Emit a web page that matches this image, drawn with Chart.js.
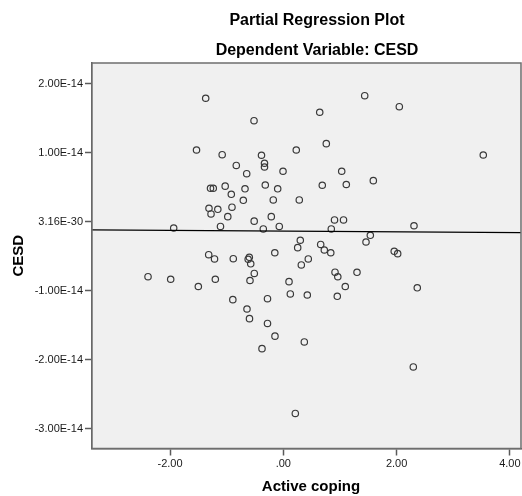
<!DOCTYPE html>
<html>
<head>
<meta charset="utf-8">
<script src="https://cdn.jsdelivr.net/npm/chart.js@4/dist/chart.umd.min.js"></script>
<style>
  html, body { margin: 0; padding: 0; background: #ffffff; }
  #wrap { width: 522px; height: 496px; position: relative; }
</style>
</head>
<body>
<div id="wrap"><canvas id="c" width="522" height="496"></canvas></div>
<script>
// Partial regression of CESD on Active coping (residualised values)
const activeCoping = [
  -1.370, -0.517, -1.532, -1.079, -0.830, -0.646, -1.285, -1.236, -1.026, -0.676,
  -0.918, -0.706,  1.437,  2.048,  0.643,  0.759,  0.229, -0.385, -0.332, -0.332,
  -0.005,  1.031,  1.589, -0.318, -0.099,  0.688,  1.112, -0.177,  0.282,  3.530,
  -1.312, -1.156, -1.276, -0.906, -0.980, -1.109, -0.514, -1.935, -0.212, -0.071,
  -0.353,  0.904,  1.063,  0.847,  2.307,  1.536,  1.460,  0.300,  0.254,  0.660,
   0.724,  0.838, -0.150,  1.958,  2.019,  0.441,  0.318, -1.317, -1.214, -0.883,
  -0.600, -0.620, -0.575, -0.512, -2.388, -1.988, -1.500, -1.200, -0.588,  0.101,
   0.913,  0.962,  1.301,  1.094,  2.365, -0.891, -0.641, -0.597, -0.279,  0.124,
   0.424,  0.953, -0.279, -0.147,  0.371, -0.376,  2.295,  0.212
];
const cesd = [
   1.793e-14,  1.468e-14,  1.043e-14,  0.975e-14,  0.819e-14,  0.700e-14,  0.488e-14,  0.488e-14,  0.519e-14,  0.481e-14,
   0.401e-14,  0.314e-14,  1.830e-14,  1.671e-14,  1.590e-14,  1.135e-14,  1.043e-14,  0.967e-14,  0.851e-14,  0.797e-14,
   0.735e-14,  0.735e-14,  0.599e-14,  0.536e-14,  0.481e-14,  0.532e-14,  0.543e-14,  0.319e-14,  0.319e-14,  0.971e-14,
   0.199e-14,  0.184e-14,  0.116e-14,  0.214e-14,  0.077e-14, -0.065e-14,  0.012e-14, -0.087e-14,  0.077e-14, -0.065e-14,
  -0.101e-14,  0.029e-14,  0.029e-14, -0.101e-14, -0.055e-14, -0.193e-14, -0.290e-14, -0.265e-14, -0.372e-14, -0.326e-14,
  -0.406e-14, -0.446e-14, -0.446e-14, -0.425e-14, -0.459e-14, -0.536e-14, -0.623e-14, -0.474e-14, -0.536e-14, -0.532e-14,
  -0.512e-14, -0.541e-14, -0.606e-14, -0.746e-14, -0.793e-14, -0.830e-14, -0.935e-14, -0.830e-14, -0.848e-14, -0.865e-14,
  -0.728e-14, -0.794e-14, -0.729e-14, -0.935e-14, -0.954e-14, -1.126e-14, -1.261e-14, -1.401e-14, -1.112e-14, -1.043e-14,
  -1.058e-14, -1.077e-14, -1.471e-14, -1.655e-14, -1.739e-14, -1.836e-14, -2.101e-14, -2.775e-14
];

// Fit line (intercept and slope of the regression)
const fitIntercept = -0.133e-14;
const fitSlope = -0.0052e-14;

// Axis ticks
const xTickValues = [-2, 0, 2, 4];
const xTickLabels = ['-2.00', '.00', '2.00', '4.00'];
const yTickValues = [-3e-14, -2e-14, -1e-14, 3.16e-30, 1e-14, 2e-14];
const yTickLabels = ['-3.00E-14', '-2.00E-14', '-1.00E-14', '3.16E-30', '1.00E-14', '2.00E-14'];

const xMin = -3.377, xMax = 4.196;
const yMin = -3.283e-14, yMax = 2.304e-14;

const FONT = "'Liberation Sans', Arial, sans-serif";
const AXIS_GREY = '#5a5a5a';

const points = activeCoping.map((x, i) => ({ x: x, y: cesd[i] }));
const fitLine = [xMin, xMax].map(x => ({ x: x, y: fitIntercept + fitSlope * x }));

// Plot panel background and frame, plus titles
const panelPlugin = {
  id: 'panel',
  beforeDatasetsDraw(chart) {
    const a = chart.chartArea, ctx = chart.ctx;
    ctx.save();
    ctx.fillStyle = '#f0f0f0';
    ctx.fillRect(a.left, a.top, a.right - a.left, a.bottom - a.top);
    ctx.restore();
  },
  afterDraw(chart) {
    const a = chart.chartArea, ctx = chart.ctx;
    ctx.save();
    ctx.strokeStyle = '#6e6e6e';
    ctx.lineWidth = 1.5;
    ctx.strokeRect(a.left, a.top, a.right - a.left, a.bottom - a.top);

    ctx.fillStyle = '#000000';
    ctx.textAlign = 'center';
    ctx.textBaseline = 'alphabetic';
    ctx.font = 'bold 16px ' + FONT;
    ctx.fillText('Partial Regression Plot', 317, 24.5);
    ctx.fillText('Dependent Variable: CESD', 317, 55);

    ctx.font = 'bold 15px ' + FONT;
    ctx.textBaseline = 'middle';
    ctx.fillText('Active coping', 311, 487);

    ctx.translate(19, (a.top + a.bottom) / 2);
    ctx.rotate(-Math.PI / 2);
    ctx.fillText('CESD', 0, 0);
    ctx.restore();
  }
};

new Chart(document.getElementById('c'), {
  type: 'scatter',
  data: {
    datasets: [
      {
        type: 'line',
        data: fitLine,
        borderColor: '#000000',
        borderWidth: 1.2,
        pointRadius: 0,
        fill: false,
        order: 0
      },
      {
        data: points,
        pointStyle: 'circle',
        pointRadius: 3.2,
        borderWidth: 1.2,
        borderColor: '#3a3a3a',
        backgroundColor: 'rgba(0,0,0,0)',
        order: 1
      }
    ]
  },
  options: {
    responsive: false,
    animation: false,
    events: [],
    layout: { autoPadding: false, padding: { top: 63, right: 1, left: 0, bottom: 0 } },
    plugins: { legend: { display: false }, tooltip: { enabled: false }, title: { display: false } },
    scales: {
      x: {
        type: 'linear',
        min: xMin, max: xMax,
        afterBuildTicks(scale) { scale.ticks = xTickValues.map(v => ({ value: v })); },
        afterFit(scale) {
          scale.height = 47.5;
          scale.paddingLeft = 0;
          scale.paddingRight = 0;
        },
        grid: { drawOnChartArea: false, drawTicks: true, tickLength: 7, tickColor: AXIS_GREY, tickWidth: 1.5 },
        border: { display: true, color: AXIS_GREY, width: 1.5 },
        ticks: {
          padding: 2,
          color: '#1a1a1a',
          font: { family: FONT, size: 11 },
          callback: (v, i) => xTickLabels[i]
        }
      },
      y: {
        type: 'linear',
        min: yMin, max: yMax,
        afterBuildTicks(scale) { scale.ticks = yTickValues.map(v => ({ value: v })); },
        afterFit(scale) {
          scale.width = 92;
          scale.paddingTop = 0;
          scale.paddingBottom = 0;
        },
        grid: { drawOnChartArea: false, drawTicks: true, tickLength: 7, tickColor: AXIS_GREY, tickWidth: 1.5 },
        border: { display: true, color: AXIS_GREY, width: 1.5 },
        ticks: {
          padding: 2,
          color: '#1a1a1a',
          font: { family: FONT, size: 11 },
          callback: (v, i) => yTickLabels[i]
        }
      }
    }
  },
  plugins: [panelPlugin]
});
</script>
</body>
</html>
